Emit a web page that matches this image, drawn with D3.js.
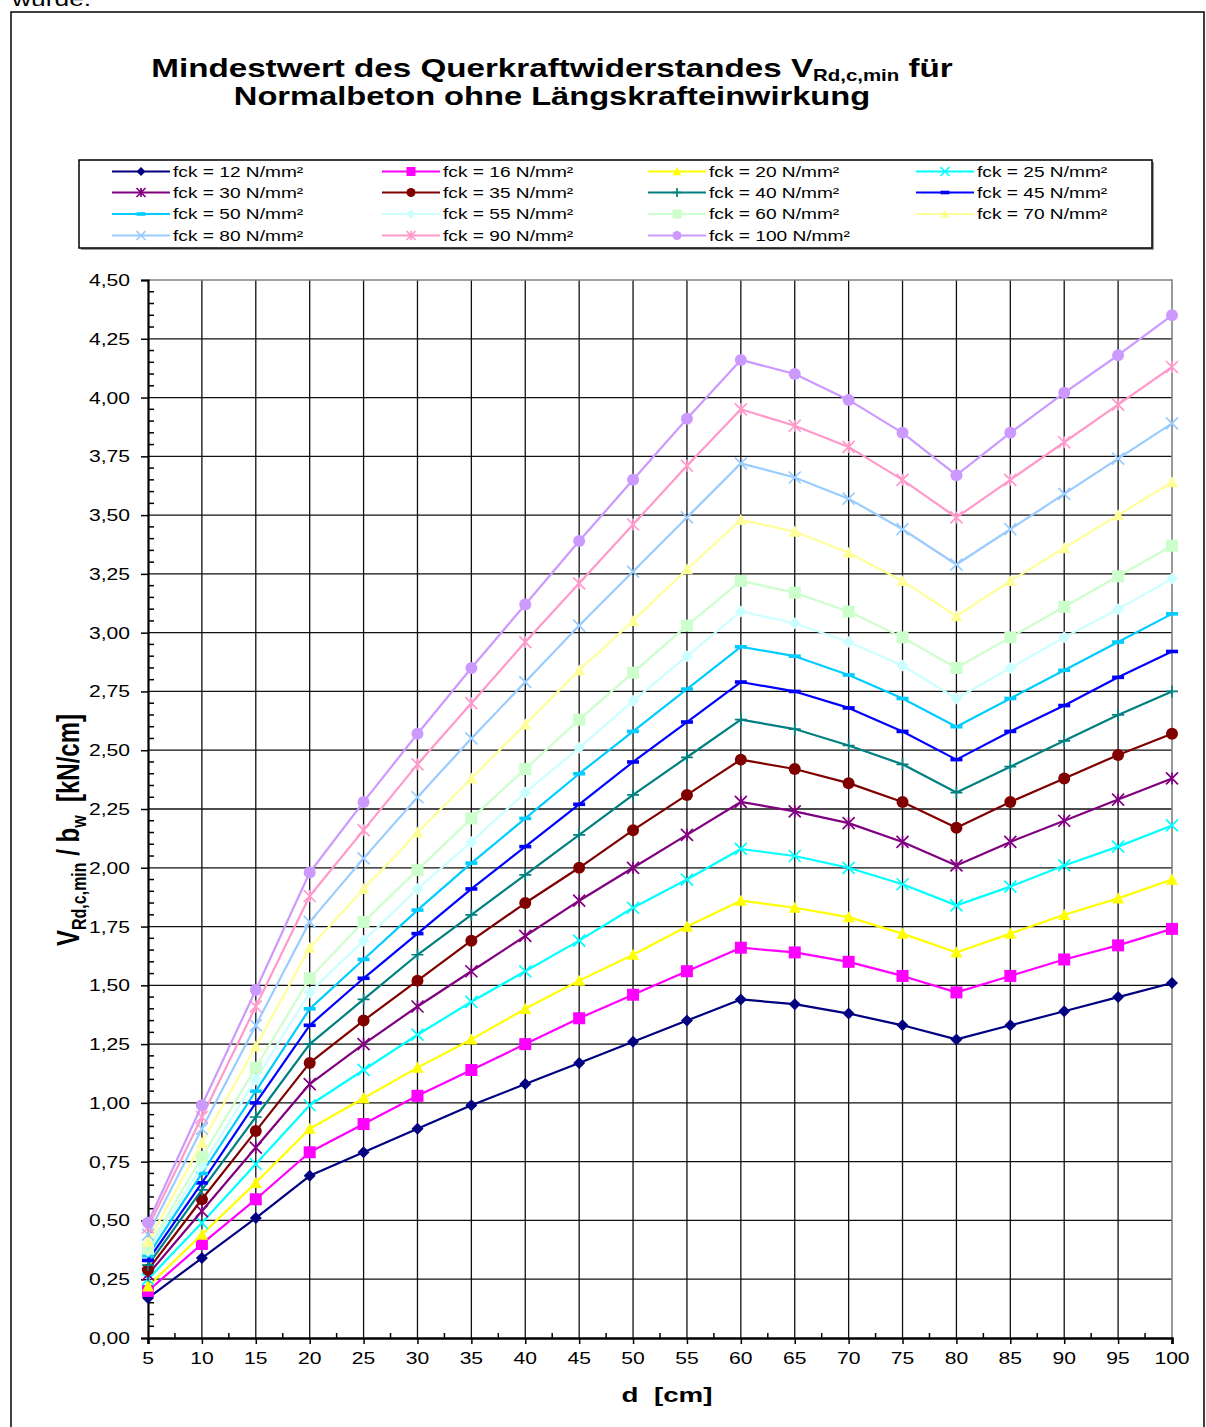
<!DOCTYPE html>
<html>
<head>
<meta charset="utf-8">
<script src="https://cdn.jsdelivr.net/npm/d3@7"></script>
<style>
  html, body { margin: 0; padding: 0; background: #fff; }
  svg { display: block; }
  text { font-family: "Liberation Sans", Arial, sans-serif; fill: #000; }
</style>
</head>
<body>
<div id="chart"></div>
<script>
// d [cm]
const dValues = [5, 10, 15, 20, 25, 30, 35, 40, 45, 50, 55, 60, 65, 70, 75, 80, 85, 90, 95, 100];

// V_Rd,c,min / b_w [kN/cm], one list per concrete class
const v12  = [0.17, 0.34, 0.51, 0.69, 0.79, 0.89, 0.99, 1.08, 1.17, 1.26, 1.35, 1.44, 1.42, 1.38, 1.33, 1.27, 1.33, 1.39, 1.45, 1.51];
const v16  = [0.20, 0.40, 0.59, 0.79, 0.91, 1.03, 1.14, 1.25, 1.36, 1.46, 1.56, 1.66, 1.64, 1.60, 1.54, 1.47, 1.54, 1.61, 1.67, 1.74];
const v20  = [0.22, 0.44, 0.66, 0.89, 1.02, 1.15, 1.27, 1.40, 1.52, 1.63, 1.75, 1.86, 1.83, 1.79, 1.72, 1.64, 1.72, 1.80, 1.87, 1.95];
const v25  = [0.25, 0.49, 0.74, 0.99, 1.14, 1.29, 1.43, 1.56, 1.69, 1.83, 1.95, 2.08, 2.05, 2.00, 1.93, 1.84, 1.92, 2.01, 2.09, 2.18];
const v30  = [0.27, 0.54, 0.81, 1.08, 1.25, 1.41, 1.56, 1.71, 1.86, 2.00, 2.14, 2.28, 2.24, 2.19, 2.11, 2.01, 2.11, 2.20, 2.29, 2.38];
const v35  = [0.29, 0.59, 0.88, 1.17, 1.35, 1.52, 1.69, 1.85, 2.00, 2.16, 2.31, 2.46, 2.42, 2.36, 2.28, 2.17, 2.28, 2.38, 2.48, 2.57];
const v40  = [0.31, 0.63, 0.94, 1.25, 1.44, 1.63, 1.80, 1.97, 2.14, 2.31, 2.47, 2.63, 2.59, 2.52, 2.44, 2.32, 2.43, 2.54, 2.65, 2.75];
const v45  = [0.33, 0.66, 1.00, 1.33, 1.53, 1.72, 1.91, 2.09, 2.27, 2.45, 2.62, 2.79, 2.75, 2.68, 2.58, 2.46, 2.58, 2.69, 2.81, 2.92];
const v50  = [0.35, 0.70, 1.05, 1.40, 1.61, 1.82, 2.02, 2.21, 2.40, 2.58, 2.76, 2.94, 2.90, 2.82, 2.72, 2.60, 2.72, 2.84, 2.96, 3.08];
const v55  = [0.37, 0.73, 1.10, 1.47, 1.69, 1.91, 2.11, 2.32, 2.51, 2.71, 2.90, 3.09, 3.04, 2.96, 2.86, 2.72, 2.85, 2.98, 3.10, 3.23];
const v60  = [0.38, 0.77, 1.15, 1.53, 1.77, 1.99, 2.21, 2.42, 2.63, 2.83, 3.03, 3.22, 3.17, 3.09, 2.98, 2.85, 2.98, 3.11, 3.24, 3.37];
const v70  = [0.41, 0.83, 1.24, 1.66, 1.91, 2.15, 2.38, 2.61, 2.84, 3.05, 3.27, 3.48, 3.43, 3.34, 3.22, 3.07, 3.22, 3.36, 3.50, 3.64];
const v80  = [0.44, 0.89, 1.33, 1.77, 2.04, 2.30, 2.55, 2.79, 3.03, 3.26, 3.49, 3.72, 3.66, 3.57, 3.44, 3.29, 3.44, 3.59, 3.74, 3.89];
const v90  = [0.47, 0.94, 1.41, 1.88, 2.16, 2.44, 2.70, 2.96, 3.21, 3.46, 3.71, 3.95, 3.88, 3.79, 3.65, 3.49, 3.65, 3.81, 3.97, 4.13];
const v100 = [0.49, 0.99, 1.48, 1.98, 2.28, 2.57, 2.85, 3.12, 3.39, 3.65, 3.91, 4.16, 4.10, 3.99, 3.85, 3.67, 3.85, 4.02, 4.18, 4.35];

const fckValues = [12, 16, 20, 25, 30, 35, 40, 45, 50, 55, 60, 70, 80, 90, 100];
const seriesValues = [v12, v16, v20, v25, v30, v35, v40, v45, v50, v55, v60, v70, v80, v90, v100];

// excel-ish default palette + marker cycle
const seriesColors = ['#000080', '#FF00FF', '#FFFF00', '#00FFFF', '#800080', '#800000', '#008080', '#0000FF',
  '#00CCFF', '#CCFFFF', '#CCFFCC', '#FFFF99', '#99CCFF', '#FF99CC', '#CC99FF'];
const seriesMarkers = ['diamond', 'square', 'triangle', 'x', 'star', 'circle', 'plus', 'dash',
  'dash', 'diamond', 'square', 'triangle', 'x', 'star', 'circle'];

const yTickValues = d3.range(0, 4.501, 0.25);
const xTickValues = dValues;

const width = 1206, height = 1427;
const SX = 1.32; // the source picture is stretched horizontally

const svg = d3.select('#chart').append('svg')
  .attr('width', width)
  .attr('height', height);

svg.append('rect').attr('width', width).attr('height', height).attr('fill', '#fff');

function stretched(parent, x, y, str, size, opts = {}) {
  return parent.append('text')
    .attr('transform', `translate(${x},${y}) scale(${opts.sx || SX},1)`)
    .attr('font-size', size)
    .attr('font-weight', opts.bold ? 'bold' : null)
    .attr('text-anchor', opts.anchor || 'start')
    .text(str);
}

// leftover text from the page above + outer frame
stretched(svg, 12, 6, 'wurde.', 20);
svg.append('rect')
  .attr('x', 11).attr('y', 12).attr('width', 1193).attr('height', 1440)
  .attr('fill', 'none').attr('stroke', '#000').attr('stroke-width', 1.5);

// title
const title = svg.append('text')
  .attr('transform', `translate(552,77) scale(1.276,1)`)
  .attr('font-size', 26).attr('font-weight', 'bold').attr('text-anchor', 'middle');
title.append('tspan').text('Mindestwert des Querkraftwiderstandes V');
title.append('tspan').attr('font-size', 16).attr('dy', 4).text('Rd,c,min');
title.append('tspan').attr('dy', -4).text(' für');
stretched(svg, 552, 105, 'Normalbeton ohne Längskrafteinwirkung', 26, {bold: true, anchor: 'middle', sx: 1.255});

// scales
const x = d3.scaleLinear().domain([5, 100]).range([148, 1172]);
const y = d3.scaleLinear().domain([0, 4.5]).range([1338, 280]);

const plot = svg.append('g');

// grid
plot.selectAll('.hgrid').data(yTickValues.filter(v => v > 0 && v < 4.5))
  .enter().append('line')
  .attr('x1', x(5)).attr('x2', x(100))
  .attr('y1', d => y(d)).attr('y2', d => y(d))
  .attr('stroke', '#111').attr('stroke-width', 1.3);
plot.selectAll('.vgrid').data(xTickValues.filter(v => v > 5 && v < 100))
  .enter().append('line')
  .attr('x1', d => x(d)).attr('x2', d => x(d))
  .attr('y1', y(0)).attr('y2', y(4.5))
  .attr('stroke', '#111').attr('stroke-width', 1.3);

// plot frame top/right
plot.append('path')
  .attr('d', `M${x(5)},${y(4.5)}H${x(100)}V${y(0)}`)
  .attr('fill', 'none').attr('stroke', '#808080').attr('stroke-width', 1.6);

// y axis
const yAxis = d3.axisLeft(y).tickValues(yTickValues).tickSize(7)
  .tickFormat(d => d3.format('.2f')(d).replace('.', ','));
const yg = plot.append('g').attr('transform', `translate(${x(5)},0)`).call(yAxis);
yg.select('.domain').attr('stroke-width', 2.2);
yg.selectAll('.tick line').attr('stroke-width', 1.5);
yg.selectAll('.tick text').remove();
yTickValues.forEach(v => {
  stretched(plot, 130, y(v) + 6, d3.format('.2f')(v).replace('.', ','), 16, {anchor: 'end'}).attr('fill', '#222');
});
const yMinor = d3.range(0, 4.5, 0.05).filter(v => Math.abs(v / 0.25 - Math.round(v / 0.25)) > 0.01);
plot.selectAll('.yminor').data(yMinor).enter().append('line')
  .attr('x1', x(5)).attr('x2', x(5) + 6)
  .attr('y1', d => y(d)).attr('y2', d => y(d))
  .attr('stroke', '#000').attr('stroke-width', 1.5);

// x axis
const xAxis = d3.axisBottom(x).tickValues(xTickValues).tickSize(6).tickFormat('');
const xg = plot.append('g').attr('transform', `translate(0,${y(0)})`).call(xAxis);
xg.select('.domain').attr('stroke-width', 2.6);
xg.selectAll('.tick line').attr('stroke-width', 1.5);
xTickValues.forEach(v => {
  stretched(plot, x(v), 1364, String(v), 16, {anchor: 'middle'}).attr('fill', '#222');
});
const xMinor = d3.range(7.5, 100, 5);
plot.selectAll('.xminor').data(xMinor).enter().append('line')
  .attr('x1', d => x(d)).attr('x2', d => x(d))
  .attr('y1', y(0)).attr('y2', y(0) - 5)
  .attr('stroke', '#000').attr('stroke-width', 1.5);

// axis titles
stretched(svg, 667, 1402, 'd\u00a0\u00a0[cm]', 21, {bold: true, anchor: 'middle'});
const yTitle = svg.append('text')
  .attr('transform', `translate(79,830) rotate(-90) scale(1,${SX})`)
  .attr('font-size', 24).attr('font-weight', 'bold').attr('text-anchor', 'middle');
yTitle.append('tspan').text('V');
yTitle.append('tspan').attr('font-size', 16).attr('dy', 5).text('Rd,c,min');
yTitle.append('tspan').attr('dy', -5).text(' / b');
yTitle.append('tspan').attr('font-size', 16).attr('dy', 5).text('w');
yTitle.append('tspan').attr('dy', -5).text('\u00a0\u00a0[kN/cm]');

// markers
function drawMarker(g, type, color, s) {
  const h = s / 2;
  if (type === 'diamond') {
    g.append('path').attr('d', `M0,${-h}L${h},0L0,${h}L${-h},0Z`).attr('fill', color);
  } else if (type === 'square') {
    g.append('rect').attr('x', -h).attr('y', -h).attr('width', s).attr('height', s).attr('fill', color);
  } else if (type === 'triangle') {
    g.append('path').attr('d', `M0,${-h}L${h},${h * 0.85}L${-h},${h * 0.85}Z`).attr('fill', color);
  } else if (type === 'circle') {
    g.append('circle').attr('r', h).attr('fill', color);
  } else if (type === 'x') {
    g.append('path').attr('d', `M${-h},${-h}L${h},${h}M${-h},${h}L${h},${-h}`)
      .attr('stroke', color).attr('stroke-width', 1.7).attr('fill', 'none');
  } else if (type === 'star') {
    g.append('path').attr('d', `M${-h},${-h}L${h},${h}M${-h},${h}L${h},${-h}M0,${-h}V${h}`)
      .attr('stroke', color).attr('stroke-width', 1.7).attr('fill', 'none');
  } else if (type === 'plus') {
    g.append('path').attr('d', `M${-h},0H${h}M0,${-h}V${h}`)
      .attr('stroke', color).attr('stroke-width', 1.7).attr('fill', 'none');
  } else if (type === 'dash') {
    g.append('rect').attr('x', -h).attr('y', -1.8).attr('width', s).attr('height', 3.6).attr('fill', color);
  }
}

const line = d3.line().x((d, i) => x(dValues[i])).y(d => y(d));

seriesValues.forEach((vals, si) => {
  const color = seriesColors[si];
  const g = plot.append('g');
  g.append('path').attr('d', line(vals))
    .attr('fill', 'none').attr('stroke', color).attr('stroke-width', 2.2)
    .attr('stroke-linejoin', 'round');
  vals.forEach((v, i) => {
    const mg = g.append('g').attr('transform', `translate(${x(dValues[i])},${y(v)})`);
    drawMarker(mg, seriesMarkers[si], color, 12);
  });
});

// legend
const legend = svg.append('g');
legend.append('rect').attr('x', 81).attr('y', 162).attr('width', 1073).attr('height', 88).attr('fill', '#999');
legend.append('rect').attr('x', 79).attr('y', 160).attr('width', 1073).attr('height', 88)
  .attr('fill', '#fff').attr('stroke', '#000').attr('stroke-width', 1.5);
const legendCols = [112, 382, 648, 916];
const legendRowY = [171.5, 192.5, 214, 235.5];
fckValues.forEach((fck, i) => {
  const cx = legendCols[i % 4];
  const cy = legendRowY[Math.floor(i / 4)];
  const color = seriesColors[i];
  legend.append('line').attr('x1', cx).attr('x2', cx + 58).attr('y1', cy).attr('y2', cy)
    .attr('stroke', color).attr('stroke-width', 2);
  const mg = legend.append('g').attr('transform', `translate(${cx + 29},${cy})`);
  drawMarker(mg, seriesMarkers[i], color, 9);
  stretched(legend, cx + 61, cy + 5, `fck = ${fck} N/mm²`, 14.5);
});
</script>
</body>
</html>
